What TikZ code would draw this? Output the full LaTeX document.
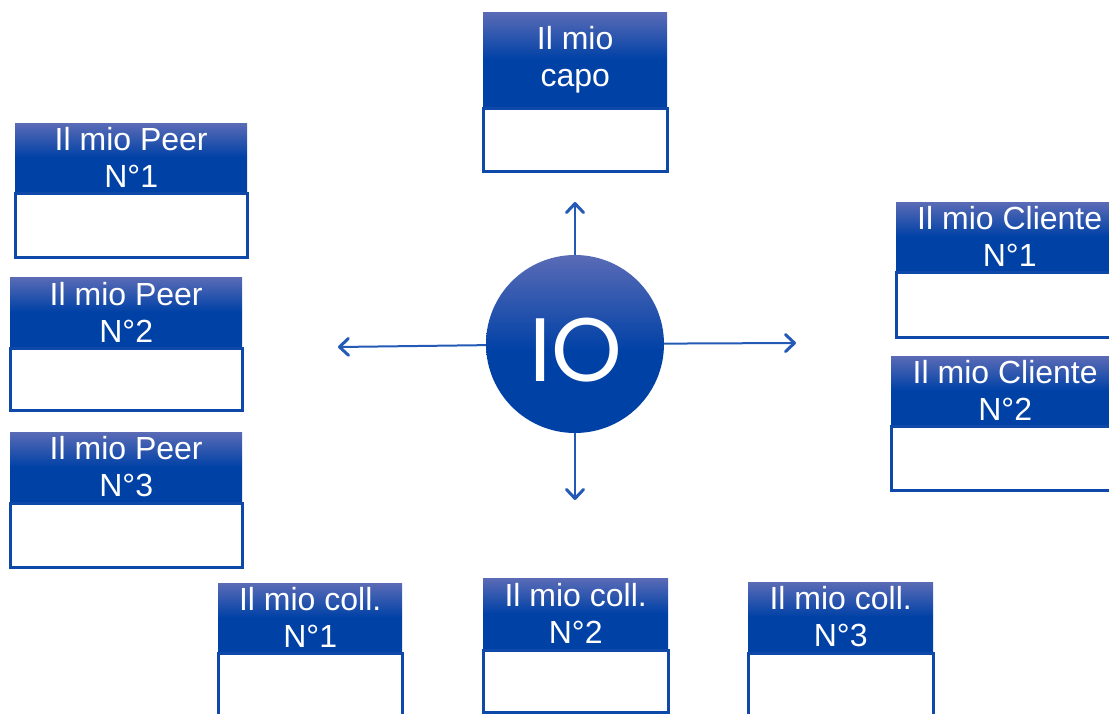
\documentclass[tikz,border=0pt]{standalone}
\usepackage{fontspec}
\setmainfont{Liberation Sans}
\newfontfamily\iofont{Poppins}
\usetikzlibrary{arrows.meta}
\definecolor{hlight}{HTML}{5A6BB6}
\definecolor{hdark}{HTML}{0041A6}
\definecolor{bord}{HTML}{0E48A8}
\definecolor{arrc}{HTML}{245AB6}
\pgfdeclareverticalshading{headshade}{100bp}{color(0bp)=(hdark); color(25bp)=(hdark); color(50bp)=(hdark); color(75bp)=(hlight); color(100bp)=(hlight)}
\pgfdeclareverticalshading{ioshade}{100bp}{color(0bp)=(hdark); color(25bp)=(hdark); color(48bp)=(hdark); color(75bp)=(hlight); color(100bp)=(hlight)}
\tikzset{
  head/.style={rectangle, anchor=north west, inner sep=0pt, shading=headshade, draw=none, text=white, align=center, font=\fontsize{32}{37}\selectfont},
  bodybox/.style={rectangle, anchor=north, inner sep=0pt, fill=white, draw=bord, line width=3pt},
  link/.style={draw=arrc, line width=2pt, -{Straight Barb[length=9pt,width=17pt,line width=3pt,round]}},
  iocircle/.style={circle, inner sep=0pt, minimum size=178pt, shading=ioshade, draw=none},
  iotextstyle/.style={text=white, inner sep=0pt, font=\iofont\fontsize{90}{90}\selectfont}
}
\newcommand\persona[7]{%
  \node[head, minimum width=#4pt, minimum height=#5pt] (#1) at (#2,#3) {#7};
  \node[bodybox, minimum width=#4pt, minimum height=#6pt] (#1b) at (#1.south) {};
}
\begin{document}
\begin{tikzpicture}[x=1pt,y=-1pt]
\useasboundingbox (0,0) rectangle (1109,713);
\persona{capo}{483}{12}{184}{94.5}{63}{Il mio\\capo}
\persona{peerA}{15}{123}{232}{68.5}{64}{Il mio Peer\\N°1}
\persona{peerB}{10}{277}{232}{69.5}{62}{Il mio Peer\\N°2}
\persona{peerC}{10}{432}{232}{69.5}{64}{Il mio Peer\\N°3}
\persona{cliA}{896}{202}{227}{68.5}{65}{Il mio Cliente\\N°1}
\persona{cliB}{891}{356}{228}{68.5}{64}{Il mio Cliente\\N°2}
\persona{collA}{218}{583}{184}{68.5}{67}{Il mio coll.\\N°1}
\persona{collB}{483}{578}{185}{70.5}{62}{Il mio coll.\\N°2}
\persona{collC}{748}{582}{185}{69.5}{67}{Il mio coll.\\N°3}
\node[iocircle] (io) at (575,344) {};
\node[iotextstyle] (iotext) at (576,350) {IO};
\coordinate (upEnd) at (575,202);
\coordinate (downEnd) at (575,500);
\coordinate (leftEnd) at (338,347);
\coordinate (rightEnd) at (796,343);
\draw[link] (io) -- (upEnd);
\draw[link] (io) -- (downEnd);
\draw[link] (io) -- (leftEnd);
\draw[link] (io) -- (rightEnd);
\end{tikzpicture}
\end{document}
